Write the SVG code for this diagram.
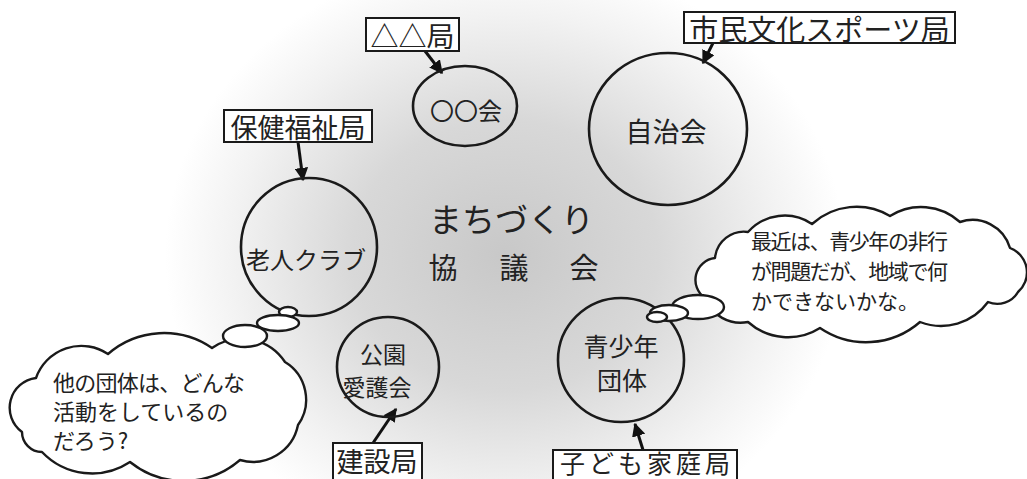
<svg xmlns="http://www.w3.org/2000/svg" width="1027" height="479" viewBox="0 0 1027 479">
<style>
.t{font-family:"Noto Sans CJK JP","Noto Sans",sans-serif;fill:#222;dominant-baseline:central}
.m{text-anchor:middle}
.node{fill:none;stroke:#1a1a1a;stroke-width:2.6}
.box{fill:#fff;stroke:#1a1a1a;stroke-width:2}
.cloud{fill:#fff;stroke:#1a1a1a;stroke-width:2.4;stroke-linejoin:round}
.arrow{stroke:#111;stroke-width:3;fill:none;marker-end:url(#ah)}
</style>
<defs>
<radialGradient id="bg" gradientUnits="userSpaceOnUse" cx="0" cy="0" r="1" gradientTransform="translate(505 255) scale(340 300)">
<stop offset="0" stop-color="#c8c8c8"/>
<stop offset="0.45" stop-color="#d8d8d8"/>
<stop offset="0.8" stop-color="#f2f2f2"/>
<stop offset="1" stop-color="#ffffff"/>
</radialGradient>
<marker id="ah" viewBox="0 0 10 10" refX="9" refY="5" markerWidth="4.5" markerHeight="4.5" orient="auto" markerUnits="strokeWidth">
<path d="M0,0 L10,5 L0,10 z" fill="#111"/>
</marker>
</defs>
<rect width="1027" height="479" fill="#fff"/>
<rect width="1027" height="479" fill="url(#bg)"/>

<g id="title">
<text class="t" x="429" y="218" font-size="33">まちづくり</text>
<text class="t m" x="443" y="266" font-size="29">協</text>
<text class="t m" x="514" y="266" font-size="29">議</text>
<text class="t m" x="584" y="266" font-size="29">会</text>
</g>

<g id="connectors">
<path class="arrow" d="M425,51 L442,73"/>
<path class="arrow" d="M298,142 L303,180"/>
<path class="arrow" d="M713,43 L703,63"/>
<path class="arrow" d="M373,443 L396,409"/>
<path class="arrow" d="M643,450 L635,424"/>
</g>

<g id="node-marumarukai">
<ellipse class="node" cx="465" cy="106" rx="52" ry="40"/>
<text class="t m" x="466" y="109" font-size="24">〇〇会</text>
</g>
<g id="node-jichikai">
<ellipse class="node" cx="668" cy="129" rx="79" ry="76"/>
<text class="t m" x="666" y="130" font-size="27">自治会</text>
</g>
<g id="node-roujin">
<ellipse class="node" cx="309" cy="247" rx="68" ry="69"/>
<text class="t m" x="306" y="258" font-size="24">老人クラブ</text>
</g>
<g id="node-kouen">
<ellipse class="node" cx="388" cy="367" rx="51" ry="50"/>
<text class="t m" x="383" y="353" font-size="23">公園</text>
<text class="t m" x="377" y="386" font-size="23">愛護会</text>
</g>
<g id="node-seishounen">
<ellipse class="node" cx="621" cy="360" rx="63" ry="62"/>
<text class="t m" x="621" y="345" font-size="25">青少年</text>
<text class="t m" x="622" y="379" font-size="25">団体</text>
</g>

<g id="label-sankaku">
<rect class="box" x="366" y="18" width="93" height="33"/>
<text class="t m" x="412.5" y="35" font-size="28">△△局</text>
</g>
<g id="label-hoken">
<rect class="box" x="224" y="110" width="148" height="32"/>
<text class="t m" x="298" y="126" font-size="27">保健福祉局</text>
</g>
<g id="label-shimin">
<rect class="box" x="684" y="12" width="271" height="31"/>
<text class="t m" x="819.5" y="28" font-size="29">市民文化スポーツ局</text>
</g>
<g id="label-kensetsu">
<rect class="box" x="333" y="443" width="89" height="40"/>
<text class="t m" x="377" y="460" font-size="27">建設局</text>
</g>
<g id="label-kodomo">
<rect class="box" x="553" y="450" width="184" height="36"/>
<text class="t m" x="645" y="462" font-size="25" textLength="170" lengthAdjust="spacing">子ども家庭局</text>
</g>

<g id="cloud-left">
<ellipse class="cloud" cx="288" cy="312" rx="9" ry="5"/>
<ellipse class="cloud" cx="278" cy="323" rx="21" ry="8"/>
<path class="cloud" d="M36,378 A48,48 0 0 1 108,354 A85,85 0 0 1 212,348 A52,52 0 0 1 285,362 A44,44 0 0 1 298,425 A46,46 0 0 1 240,460 A86,86 0 0 1 130,462 A69,69 0 0 1 42,452 A20,20 0 0 1 22,432 A30,30 0 0 1 36,378 Z"/>
<ellipse class="cloud" cx="245" cy="336" rx="22" ry="11"/>
<text class="t" x="53" y="381" font-size="22" textLength="192" lengthAdjust="spacing">他の団体は、どんな</text>
<text class="t" x="53" y="410" font-size="22">活動をしているの</text>
<text class="t" x="53" y="439" font-size="22">だろう?</text>
</g>

<g id="cloud-right">
<path class="cloud" d="M715,258 A29,29 0 0 1 748,232 A49,49 0 0 1 812,224 A66,66 0 0 1 890,216 A58,58 0 0 1 960,222 A39,39 0 0 1 1010,248 A26,26 0 0 1 1018,292 A24,24 0 0 1 988,302 A58,58 0 0 1 920,322 A82,82 0 0 1 820,328 A60,60 0 0 1 748,322 A38,38 0 0 1 705,298 A22,22 0 0 1 715,258 Z"/>
<ellipse class="cloud" cx="698" cy="307" rx="26" ry="12"/>
<ellipse class="cloud" cx="669" cy="313" rx="19" ry="8"/>
<ellipse class="cloud" cx="657" cy="317" rx="10" ry="5"/>
<text class="t" x="751" y="240" font-size="21" textLength="197" lengthAdjust="spacing">最近は、青少年の非行</text>
<text class="t" x="751" y="270" font-size="21" textLength="197" lengthAdjust="spacing">が問題だが、地域で何</text>
<text class="t" x="751" y="300" font-size="21">かできないかな。</text>
</g>
</svg>
